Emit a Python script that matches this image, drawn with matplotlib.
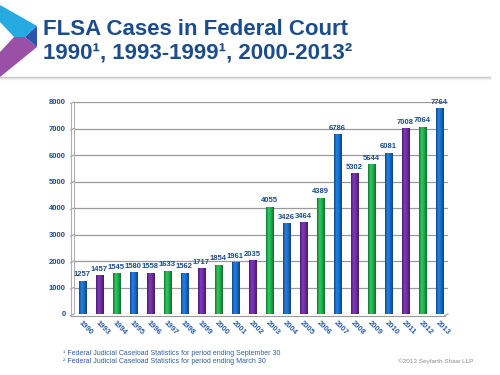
import matplotlib.pyplot as plt
import numpy as np
from matplotlib.patches import Polygon
from matplotlib.colors import LinearSegmentedColormap, to_rgb

plt.rcParams['font.family'] = ['Liberation Sans', 'DejaVu Sans']

# data
years = ['1990', '1993', '1994', '1995', '1996', '1997', '1998', '1999', '2000', '2001', '2002',
         '2003', '2004', '2005', '2006', '2007', '2008', '2009', '2010', '2011', '2012', '2013']
cases = [1257, 1457, 1545, 1580, 1558, 1633, 1562, 1717, 1854, 1961, 2035,
         4055, 3426, 3464, 4389, 6786, 5302, 5644, 6081, 7008, 7064, 7764]
yticks = [0, 1000, 2000, 3000, 4000, 5000, 6000, 7000, 8000]

title1 = 'FLSA Cases in Federal Court'
title2 = '1990¹, 1993-1999¹, 2000-2013²'
note1 = '¹ Federal Judicial Caseload Statistics for period ending September 30'
note2 = '² Federal Judicial Caseload Statistics for period ending March 30'
copy_txt = '©2013 Seyfarth Shaw LLP'

navy = '#1b4c8c'
bar_cols = ['#1a69bd', '#6a2c9c', '#22a64b']  # blue, purple, green repeating

fig = plt.figure(figsize=(5, 3.75), dpi=100)
fig.patch.set_facecolor('white')

# header chevron
W, H = 500, 375
def fx(p):
    return [(x / W, 1 - y / H) for x, y in p]
fig.patches.append(Polygon(fx([(0, 5), (37, 26), (25, 37), (14, 37), (0, 22)]),
                           closed=True, fc='#27a9e1', ec='none', transform=fig.transFigure))
fig.patches.append(Polygon(fx([(0, 52), (14, 37), (25, 37), (37, 47), (0, 77)]),
                           closed=True, fc='#9b50a8', ec='none', transform=fig.transFigure))
fig.patches.append(Polygon(fx([(25, 37), (37, 26), (37, 47)]),
                           closed=True, fc='#2a55a8', ec='none', transform=fig.transFigure))
# header shadow line
for i, c in enumerate(['#c8c8c8', '#dedede', '#f0f0f0']):
    fig.add_artist(plt.Line2D([0, 0.98], [1 - (77 + i) / H] * 2, color=c, lw=1,
                              transform=fig.transFigure))

fig.text(43 / W, 1 - 35 / H, title1, fontsize=16, fontweight='bold', color=navy, va='baseline')
fig.text(43 / W, 1 - 59 / H, title2, fontsize=16, fontweight='bold', color=navy, va='baseline')

ax = fig.add_axes([74 / W, 1 - 314 / H, 374 / W, 212 / H])
x = np.arange(len(years))
bars = ax.bar(x, cases, width=0.44, color=[bar_cols[i % 3] for i in range(len(years))],
              zorder=3)

# cylinder shading
for b, i in zip(bars, range(len(years))):
    base = np.array(to_rgb(bar_cols[i % 3]))
    cmap = LinearSegmentedColormap.from_list('c', [base * 0.7, np.minimum(base * 1.25, 1),
                                                   base, base * 0.65])
    im = ax.imshow(np.linspace(0, 1, 32).reshape(1, -1), cmap=cmap, aspect='auto',
                   extent=(b.get_x(), b.get_x() + b.get_width(), 0, b.get_height()), zorder=3)
    im.set_clip_path(b)

for xi, v in zip(x, cases):
    ax.text(xi, v + 90, str(v), ha='center', va='bottom', fontsize=5.5, fontweight='bold',
            color=navy)

ax.set_xlim(-0.5, len(years) - 0.5)
ax.set_ylim(0, 8000)
for s in ax.spines.values():
    s.set_visible(False)

# back-wall grid with a slight 3d slant
for v in yticks:
    ax.plot([-0.5, len(years) - 0.5], [v, v], color='#9a9a9a', lw=0.9, zorder=1)
    ax.plot([-0.7, -0.5], [v - 60, v], color='#9a9a9a', lw=0.8, clip_on=False)
ax.plot([-0.5, -0.5], [0, 8000], color='#b0b0b0', lw=0.8, zorder=1)
ax.plot([-0.7, -0.7], [-60, 7940], color='#b0b0b0', lw=0.8, clip_on=False)
ax.plot([-0.7, len(years) - 0.7], [-60, -60], color='#9a9a9a', lw=0.8, clip_on=False)
ax.plot([len(years) - 0.7, len(years) - 0.5], [-60, 0], color='#9a9a9a', lw=0.8, clip_on=False)

ax.set_yticks(yticks)
ax.set_yticklabels([str(v) for v in yticks], fontsize=5.5, fontweight='bold', color=navy)
ax.tick_params(axis='y', length=0, pad=6)
ax.set_xticks(x)
ax.set_xticklabels(years, rotation=-45, ha='left', va='top', rotation_mode='anchor',
                   fontsize=5.5, fontweight='bold', color='#2a5ca8')
ax.tick_params(axis='x', length=0, pad=4)

fig.text(63 / W, 1 - 355 / H, note1, fontsize=5, color='#2f5ea3', va='baseline')
fig.text(63 / W, 1 - 363 / H, note2, fontsize=5, color='#2f5ea3', va='baseline')
fig.text(473 / W, 1 - 363 / H, copy_txt, fontsize=4.6, color='#8a8a8a', va='baseline', ha='right')

fig.savefig('out.png', dpi=100, facecolor='white')
